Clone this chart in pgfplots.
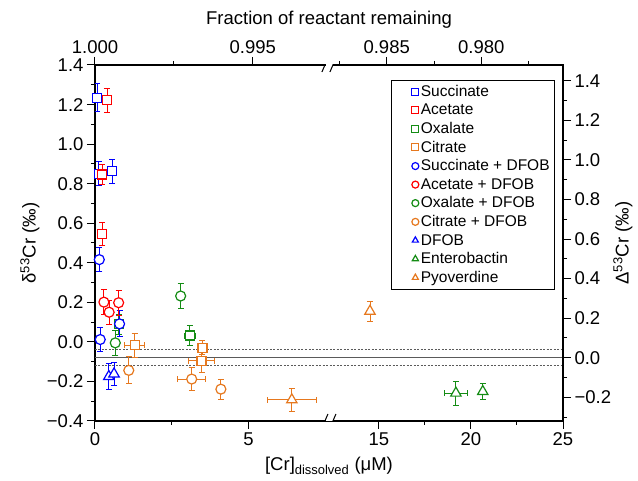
\documentclass[border=0pt]{standalone}
\usepackage{fontspec}
\setmainfont{Liberation Sans}
\usepackage{pgfplots}
\usepackage{pgfplotstable}
\pgfplotsset{compat=1.18}
\definecolor{cblue}{RGB}{0,0,255}
\definecolor{cred}{RGB}{255,0,0}
\definecolor{cgreen}{RGB}{20,140,20}
\definecolor{corange}{RGB}{230,120,30}
\definecolor{refgray}{RGB}{90,90,90}
% columns: x = [Cr] (uM), y = delta53Cr, ex, ey = errors
\pgfplotstableread{
x y ex ey
0.07 1.235 0 0.07
0.12 0.850 0 0.06
0.56 0.862 0 0.06
}\succinate
\pgfplotstableread{
x y ex ey
0.39 1.221 0 0.06
0.23 0.846 0 0.05
0.24 0.546 0 0.06
}\acetate
\pgfplotstableread{
x y ex ey
0.78 0.090 0 0.05
3.09 0.032 0.18 0.05
}\oxalate
\pgfplotstableread{
x y ex ey
1.29 -0.017 0.33 0.062
3.50 -0.030 0 0.036
3.47 -0.095 0.42 0.060
}\citrate
\pgfplotstableread{
x y ex ey
0.14 0.416 0.08 0.06
0.17 0.012 0 0.06
0.80 0.091 0 0.066
}\succdfob
\pgfplotstableread{
x y ex ey
0.29 0.201 0 0.063
0.46 0.150 0 0.06
0.77 0.198 0 0.063
}\acetdfob
\pgfplotstableread{
x y ex ey
0.66 -0.005 0 0.062
2.79 0.232 0 0.062
}\oxaldfob
\pgfplotstableread{
x y ex ey
1.10 -0.144 0 0.068
3.15 -0.188 0.46 0.060
4.10 -0.239 0 0.050
}\citrdfob
\pgfplotstableread{
x y ex ey
0.45 -0.175 0 0.068
0.62 -0.162 0 0.060
}\dfob
% Enterobactin x error 0.62 uM, written in the compressed right-hand scale (0.62*0.5993)
\pgfplotstableread{
x y ex ey
19.18 -0.259 0.37 0.061
20.64 -0.251 0 0.042
}\entero
\pgfplotstableread{
x y ex ey
6.41 -0.293 0.80 0.060
14.51 0.155 0 0.050
}\pyover
\pgfplotsset{
  brokenx/.style={x coord trafo/.code={\pgfmathparse{##1<10 ? ##1 : 7.655+(##1-12.34)*0.5993}}},
  common/.style={at={(0,0)}, anchor=south west, scale only axis, width=468pt, height=356pt,
    brokenx, xmin=0, xmax=25,
    tick align=outside, major tick length=8pt, minor tick length=4pt,
    every tick/.style={black, line width=1pt},
    axis line style={line width=1.2pt},
    tick label style={font=\fontsize{18.5}{21}\selectfont},
    label style={font=\fontsize{18.5}{21}\selectfont},
    /pgf/number format/assume math mode=true},
  errs/.style={forget plot, only marks, mark=none, color=#1,
    error bars/x dir=both, error bars/x explicit, error bars/y dir=both, error bars/y explicit,
    error bars/error bar style={color=#1, line width=0.9pt},
    error bars/error mark options={color=#1, rotate=90, line width=0.9pt, mark size=3pt}},
  pts/.style={only marks, color=#1, mark options={draw=#1, fill=white, line width=1.2pt, solid}},
}
\newcommand{\series}[4]{%
  \addplot[errs=#2] table[x=x, y=y, x error=ex, y error=ey] {#1};
  \addplot[pts=#2, mark=#3, mark size=#4] table[x=x, y=y] {#1};
}
\begin{document}
\begin{tikzpicture}[font=\fontsize{18.5}{21}\selectfont]
\useasboundingbox (-95pt,-60pt) rectangle (543pt,421pt);
\begin{axis}[common,
  ymin=-0.4, ymax=1.4,
  xtick={0,5,15,20,25}, xticklabels={0,5,15,20,25},
  minor xtick={2.5,17.5,22.5},
  ytick={-0.4,-0.2,0,0.2,0.4,0.6,0.8,1.0,1.2,1.4},
  yticklabels={−0.4,−0.2,0.0,0.2,0.4,0.6,0.8,1.0,1.2,1.4},
  minor ytick={-0.3,-0.1,0.1,0.3,0.5,0.7,0.9,1.1,1.3},
  xtick pos=bottom, ytick pos=left,
  xlabel={[Cr]\textsubscript{dissolved} (μM)},
  ylabel={δ\textsuperscript{53}Cr (‰)},
  xlabel style={at={(axis description cs:0.5,-0.126)}, anchor=center},
  ylabel style={at={(axis description cs:-0.139,0.5)}, anchor=center},
  legend style={at={(axis description cs:0.983,0.958)}, anchor=north east,
    draw=black, line width=0.8pt, font=\fontsize{15.5}{17}\selectfont,
    row sep=2pt, inner xsep=3pt, inner ysep=3pt, legend cell align=left},
  legend image code/.code={\draw[white, line width=0.01pt] (0pt,0pt) -- (24pt,0pt);
    \draw[#1, mark size=3.5pt] plot coordinates {(21pt,0pt)};},
]
\addplot[forget plot, refgray, line width=1pt] coordinates {(0,-0.08) (25,-0.08)};
\addplot[forget plot, refgray, line width=0.9pt, dash pattern=on 2pt off 1.5pt] coordinates {(0,-0.04) (25,-0.04)};
\addplot[forget plot, refgray, line width=0.9pt, dash pattern=on 2pt off 1.5pt] coordinates {(0,-0.12) (25,-0.12)};
\series{\succinate}{cblue}{square*}{4.5pt}
\addlegendentry{Succinate}
\series{\acetate}{cred}{square*}{4.5pt}
\addlegendentry{Acetate}
\series{\oxalate}{cgreen}{square*}{4.5pt}
\addlegendentry{Oxalate}
\series{\citrate}{corange}{square*}{4.5pt}
\addlegendentry{Citrate}
\series{\succdfob}{cblue}{*}{5pt}
\addlegendentry{Succinate + DFOB}
\series{\acetdfob}{cred}{*}{5pt}
\addlegendentry{Acetate + DFOB}
\series{\oxaldfob}{cgreen}{*}{5pt}
\addlegendentry{Oxalate + DFOB}
\series{\citrdfob}{corange}{*}{5pt}
\addlegendentry{Citrate + DFOB}
\series{\dfob}{cblue}{triangle*}{6pt}
\addlegendentry{DFOB}
\series{\entero}{cgreen}{triangle*}{6pt}
\addlegendentry{Enterobactin}
\series{\pyover}{corange}{triangle*}{6pt}
\addlegendentry{Pyoverdine}
\end{axis}
\begin{axis}[common,
  ymin=-0.32, ymax=1.48,
  axis x line*=top, axis y line*=right,
  xtick={0,5.14,15.42,20.56}, xticklabels={1.000,0.995,0.985,0.980},
  minor xtick={2.57,12.85,17.99,23.13},
  ytick={-0.2,0,0.2,0.4,0.6,0.8,1.0,1.2,1.4},
  yticklabels={−0.2,0.0,0.2,0.4,0.6,0.8,1.0,1.2,1.4},
  minor ytick={-0.3,-0.1,0.1,0.3,0.5,0.7,0.9,1.1,1.3},
  xlabel={Fraction of reactant remaining},
  ylabel={Δ\textsuperscript{53}Cr (‰)},
  xlabel style={at={(axis description cs:0.5,1.126)}, anchor=center},
  ylabel style={at={(axis description cs:1.128,0.5)}, anchor=center},
]
\addplot[draw=none, forget plot] coordinates {(0,0)};
\fill[white, shift={(rel axis cs:0.502,0)}] (-4pt,-2pt) rectangle (3pt,2pt);
\draw[black, line width=1pt, shift={(rel axis cs:0.502,0)}] (-8pt,-7pt) -- (-2pt,7pt);
\draw[black, line width=1pt, shift={(rel axis cs:0.502,0)}] (0pt,-7pt) -- (6pt,7pt);
\fill[white, shift={(rel axis cs:0.502,1)}] (-4pt,-2pt) rectangle (3pt,2pt);
\draw[black, line width=1pt, shift={(rel axis cs:0.502,1)}] (-8pt,-7pt) -- (-2pt,7pt);
\draw[black, line width=1pt, shift={(rel axis cs:0.502,1)}] (0pt,-7pt) -- (6pt,7pt);
\end{axis}
\end{tikzpicture}
\end{document}
